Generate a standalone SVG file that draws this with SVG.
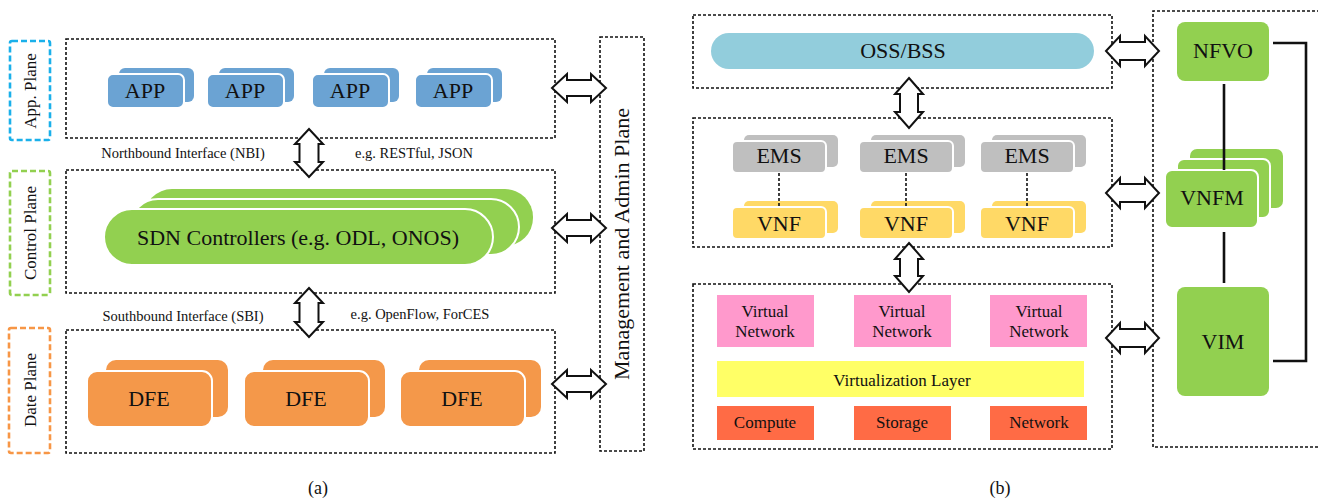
<svg xmlns="http://www.w3.org/2000/svg" width="1318" height="498" viewBox="0 0 1318 498">
<style>
text{font-family:"Liberation Serif","Times New Roman",serif;fill:#111;text-anchor:middle}
.dot{fill:none;stroke:#111;stroke-width:1.6;stroke-dasharray:3 2}
.plane{fill:none;stroke-width:2.6;stroke-dasharray:6 3}
.arr{fill:#fff;stroke:#111;stroke-width:2;stroke-linejoin:miter}
.sep{stroke:#fff;stroke-width:2}
.app{fill:#6ba3d3}
.sdn{fill:#92d050}
.dfe{fill:#f4984a}
.ems{fill:#bfbfbf}
.vnf{fill:#ffd966}
.oss{fill:#92cddc}
.vn{fill:#ff99cc}
.vl{fill:#ffff66}
.hw{fill:#ff6b45}
.mano{fill:#92d050}
.t22{font-size:22px}
.t17{font-size:17px}
.t14{font-size:14.5px}
.ln{stroke:#111;stroke-width:2.6;fill:none}
</style>

<!-- ===== (a) ===== -->
<g id="app-plane-label">
<rect class="plane" x="10" y="41" width="40" height="99" rx="2" stroke="#1ab0ea"/>
<text class="t17" transform="translate(30,91) rotate(-90)" dy="6">App. Plane</text>
</g>
<g id="control-plane-label">
<rect class="plane" x="10" y="171" width="40" height="124" rx="2" stroke="#92d050"/>
<text class="t17" transform="translate(30,233) rotate(-90)" dy="6">Control Plane</text>
</g>
<g id="data-plane-label">
<rect class="plane" x="9" y="328" width="41" height="125" rx="2" stroke="#f79646"/>
<text class="t17" transform="translate(30,390) rotate(-90)" dy="6">Date Plane</text>
</g>

<g id="app-layer">
<rect class="dot" x="66" y="39" width="489" height="99"/>
</g>
<g id="app1"><rect class="app" x="119" y="68" width="75" height="34" rx="6"/><rect class="app sep" x="107" y="74" width="77" height="34" rx="6"/><text class="t22" x="145" y="98">APP</text></g>
<g id="app2"><rect class="app" x="219" y="68" width="75" height="34" rx="6"/><rect class="app sep" x="207" y="74" width="77" height="34" rx="6"/><text class="t22" x="245" y="98">APP</text></g>
<g id="app3"><rect class="app" x="324" y="68" width="75" height="34" rx="6"/><rect class="app sep" x="312" y="74" width="77" height="34" rx="6"/><text class="t22" x="350" y="98">APP</text></g>
<g id="app4"><rect class="app" x="427" y="68" width="75" height="34" rx="6"/><rect class="app sep" x="415" y="74" width="77" height="34" rx="6"/><text class="t22" x="453" y="98">APP</text></g>

<g id="control-layer">
<rect class="dot" x="66" y="170" width="489" height="123"/>
</g>
<g id="sdn-controllers">
<rect class="sdn" x="144" y="189" width="389" height="57" rx="28"/>
<rect class="sdn sep" x="130" y="199" width="389" height="56" rx="28"/>
<rect class="sdn sep" x="104" y="209" width="389" height="56" rx="28"/>
<text class="t22" x="298" y="245">SDN Controllers (e.g. ODL, ONOS)</text>
</g>

<g id="data-layer">
<rect class="dot" x="66" y="330" width="489" height="123"/>
</g>
<g id="dfe1"><rect class="dfe" x="106" y="360" width="122" height="57" rx="10"/><rect class="dfe sep" x="87" y="371" width="125" height="56" rx="10"/><text class="t22" x="149" y="406">DFE</text></g>
<g id="dfe2"><rect class="dfe" x="263" y="360" width="122" height="57" rx="10"/><rect class="dfe sep" x="244" y="371" width="125" height="56" rx="10"/><text class="t22" x="306" y="406">DFE</text></g>
<g id="dfe3"><rect class="dfe" x="419" y="360" width="122" height="57" rx="10"/><rect class="dfe sep" x="400" y="371" width="125" height="56" rx="10"/><text class="t22" x="462" y="406">DFE</text></g>

<g id="mgmt-plane">
<rect class="dot" x="600" y="37" width="44" height="414"/>
<text class="t22" transform="translate(622,244) rotate(-90)" dy="7">Management and Admin Plane</text>
</g>

<g id="interface-labels">
<text class="t14" x="183" y="158">Northbound Interface (NBI)</text>
<text class="t14" x="414" y="158">e.g. RESTful, JSON</text>
<text class="t14" x="183" y="321">Southbound Interface (SBI)</text>
<text class="t14" x="420" y="319">e.g. OpenFlow, ForCES</text>
</g>

<!-- ===== (b) ===== -->
<g id="oss-layer"><rect class="dot" x="693" y="15" width="419" height="73"/></g>
<g id="oss-bss"><rect class="oss" x="711" y="33" width="383" height="36" rx="18"/><text class="t22" x="903" y="58">OSS/BSS</text></g>

<g id="vnf-layer"><rect class="dot" x="693" y="118" width="419" height="129"/></g>
<g id="ems1"><rect class="ems" x="744" y="135" width="94" height="32" rx="5"/><rect class="ems sep" x="732" y="141" width="94" height="32" rx="5"/><text class="t22" x="779" y="163">EMS</text></g>
<g id="ems2"><rect class="ems" x="871" y="135" width="94" height="32" rx="5"/><rect class="ems sep" x="859" y="141" width="94" height="32" rx="5"/><text class="t22" x="906" y="163">EMS</text></g>
<g id="ems3"><rect class="ems" x="992" y="135" width="94" height="32" rx="5"/><rect class="ems sep" x="980" y="141" width="94" height="32" rx="5"/><text class="t22" x="1027" y="163">EMS</text></g>
<g id="vnf1"><rect class="vnf" x="744" y="201" width="94" height="32" rx="5"/><rect class="vnf sep" x="732" y="207" width="94" height="32" rx="5"/><text class="t22" x="779" y="231">VNF</text></g>
<g id="vnf2"><rect class="vnf" x="871" y="201" width="94" height="32" rx="5"/><rect class="vnf sep" x="859" y="207" width="94" height="32" rx="5"/><text class="t22" x="906" y="231">VNF</text></g>
<g id="vnf3"><rect class="vnf" x="992" y="201" width="94" height="32" rx="5"/><rect class="vnf sep" x="980" y="207" width="94" height="32" rx="5"/><text class="t22" x="1027" y="231">VNF</text></g>

<g id="nfvi-layer"><rect class="dot" x="693" y="284" width="419" height="165"/></g>
<g id="vn1"><rect class="vn" x="717" y="295" width="97" height="52"/><text class="t17" x="765" y="317">Virtual</text><text class="t17" x="765" y="337">Network</text></g>
<g id="vn2"><rect class="vn" x="854" y="295" width="97" height="52"/><text class="t17" x="902" y="317">Virtual</text><text class="t17" x="902" y="337">Network</text></g>
<g id="vn3"><rect class="vn" x="990" y="295" width="97" height="52"/><text class="t17" x="1039" y="317">Virtual</text><text class="t17" x="1039" y="337">Network</text></g>
<g id="virt-layer"><rect class="vl" x="717" y="361" width="367" height="36"/><text class="t17" x="902" y="386">Virtualization Layer</text></g>
<g id="compute"><rect class="hw" x="717" y="406" width="97" height="34"/><text class="t17" x="765" y="428">Compute</text></g>
<g id="storage"><rect class="hw" x="854" y="406" width="97" height="34"/><text class="t17" x="902" y="428">Storage</text></g>
<g id="network"><rect class="hw" x="990" y="406" width="97" height="34"/><text class="t17" x="1039" y="428">Network</text></g>

<g id="mano-box"><path class="dot" d="M1330,11 H1153 V447 H1330"/></g>
<g id="nfvo"><rect class="mano" x="1177" y="22" width="92" height="59" rx="8"/><text class="t22" x="1223" y="58">NFVO</text></g>
<g id="vnfm">
<rect class="mano" x="1190" y="149" width="93" height="59" rx="7"/>
<rect class="mano sep" x="1177" y="159" width="93" height="59" rx="7"/>
<rect class="mano sep" x="1165" y="170" width="93" height="58" rx="7"/>
<text class="t22" x="1212" y="205">VNFM</text>
</g>
<g id="vim"><rect class="mano" x="1177" y="287" width="92" height="109" rx="8"/><text class="t22" x="1223" y="349">VIM</text></g>

<g id="connectors">
<!-- (a) vertical -->
<path class="arr" d="M309,129 L323,144 L318.5,144 L318.5,162 L323,162 L309,177 L295,162 L299.5,162 L299.5,144 L295,144 Z"/>
<path class="arr" d="M309,288 L323,303 L318.5,303 L318.5,322 L323,322 L309,337 L295,322 L299.5,322 L299.5,303 L295,303 Z"/>
<!-- (a) horizontal -->
<path class="arr" d="M552,88 L567,74 L567,80 L591,80 L591,74 L606,88 L591,102 L591,96 L567,96 L567,102 Z"/>
<path class="arr" d="M552,228 L567,214 L567,220 L591,220 L591,214 L606,228 L591,242 L591,236 L567,236 L567,242 Z"/>
<path class="arr" d="M552,384 L567,370 L567,376 L591,376 L591,370 L606,384 L591,398 L591,392 L567,392 L567,398 Z"/>
<!-- (b) vertical -->
<path class="arr" d="M909,78 L923,94 L918,94 L918,112 L923,112 L909,128 L895,112 L900,112 L900,94 L895,94 Z"/>
<path class="arr" d="M909,243 L923,259 L918,259 L918,276 L923,276 L909,292 L895,276 L900,276 L900,259 L895,259 Z"/>
<!-- (b) horizontal -->
<path class="arr" d="M1106,51 L1120,36 L1120,42 L1145,42 L1145,36 L1159,51 L1145,66 L1145,60 L1120,60 L1120,66 Z"/>
<path class="arr" d="M1106,193 L1120,178 L1120,184 L1145,184 L1145,178 L1159,193 L1145,208 L1145,202 L1120,202 L1120,208 Z"/>
<path class="arr" d="M1106,338 L1120,323 L1120,329 L1145,329 L1145,323 L1159,338 L1145,353 L1145,347 L1120,347 L1120,353 Z"/>
<!-- EMS-VNF dotted -->
<line class="dot" x1="779" y1="173" x2="779" y2="207"/>
<line class="dot" x1="906" y1="173" x2="906" y2="207"/>
<line class="dot" x1="1027" y1="173" x2="1027" y2="207"/>
<!-- MANO links -->
<line class="ln" x1="1224" y1="84" x2="1224" y2="170"/>
<line class="ln" x1="1224" y1="232" x2="1224" y2="283"/>
<path class="ln" d="M1273,43 H1306 V361 H1273"/>
</g>

<g id="captions">
<text x="318" y="494" style="font-size:18px">(a)</text>
<text x="1000" y="494" style="font-size:18px">(b)</text>
</g>
</svg>
